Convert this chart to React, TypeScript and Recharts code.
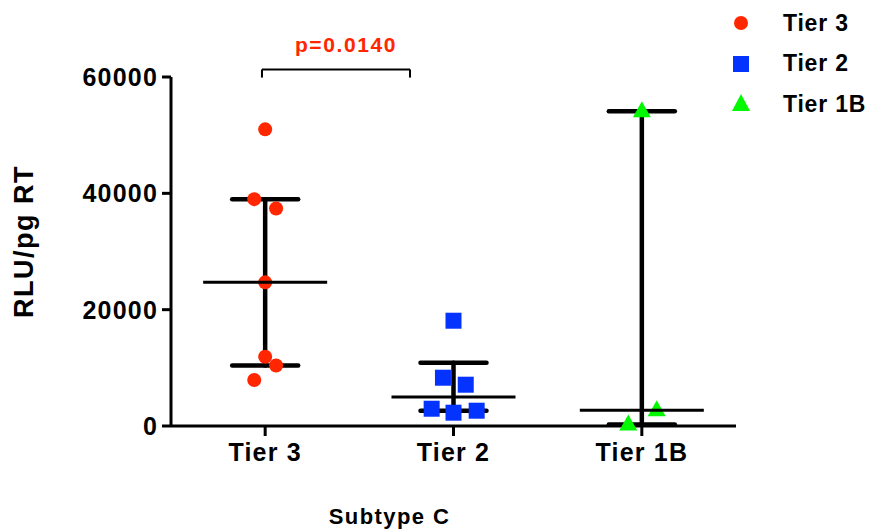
import React from 'react';
import { ComposedChart, Scatter, XAxis, YAxis, ErrorBar, ReferenceLine, Legend } from 'recharts';

const FONT = '"Liberation Sans", Arial, Helvetica, sans-serif';
const RED = '#FF2600';
const BLUE = '#0433FF';
const GREEN = '#00F900';

// categories on the x axis (placed at 1, 2, 3)
const categories = ['Tier 3', 'Tier 2', 'Tier 1B'];
const yTicks = [0, 20000, 40000, 60000];

// individual measurements, with horizontal jitter (in category units)
const tier3Values = [51000, 39000, 37400, 24700, 11900, 10400, 7900];
const tier3Jitter = [0, -0.058, 0.058, 0, 0, 0.058, -0.058];
const tier2Values = [18100, 8300, 7100, 2970, 2290, 2630];
const tier2Jitter = [0, -0.056, 0.065, -0.116, 0, 0.123];
const tier1bValues = [54100, 2700, 250];
const tier1bJitter = [0, 0.079, -0.072];

// median and interquartile range per category
const medians = [24700, 5000, 2700];
const q1s = [10400, 2630, 250];
const q3s = [39000, 10880, 54100];

// significance bracket between Tier 3 and Tier 2
const bracketX = [0.983, 1.769];
const bracketY = [59900, 61300];
const pLabel = 'p=0.0140';

const toPoints = (values: number[], jitter: number[], pos: number) =>
    values.map((y, i) => ({ x: pos + jitter[i], y }));

const tier3Data = toPoints(tier3Values, tier3Jitter, 1);
const tier2Data = toPoints(tier2Values, tier2Jitter, 2);
const tier1bData = toPoints(tier1bValues, tier1bJitter, 3);

const summaryData = categories.map((name, i) => ({
    x: i + 1,
    y: medians[i],
    err: [medians[i] - q1s[i], q3s[i] - medians[i]],
}));

const CircleDot = (props: any) => <circle cx={props.cx} cy={props.cy} r={7} fill={RED} />;
const SquareDot = (props: any) => (
    <rect x={props.cx - 8} y={props.cy - 8} width={16} height={16} fill={BLUE} />
);
const TriangleDot = (props: any) => (
    <path
        d={`M${props.cx},${props.cy - 10} L${props.cx + 9},${props.cy + 6} L${props.cx - 9},${props.cy + 6} Z`}
        fill={GREEN}
    />
);
const MedianLine = (props: any) => (
    <line x1={props.cx - 62} x2={props.cx + 62} y1={props.cy} y2={props.cy} stroke="#000" strokeWidth={3} />
);

const markers = [
    <circle cx={21} cy={12} r={7} fill={RED} />,
    <rect x={13} y={4} width={16} height={16} fill={BLUE} />,
    <path d="M21,2 L30,19 L12,19 Z" fill={GREEN} />,
];

const renderLegend = () => (
    <div style={{ fontFamily: FONT, fontWeight: 700, fontSize: 23, letterSpacing: 0.8, color: '#000' }}>
        {categories.map((name, i) => (
            <div key={name} style={{ display: 'flex', alignItems: 'center', height: 40.5, lineHeight: 1 }}>
                <svg width={42} height={24}>{markers[i]}</svg>
                <span style={{ marginLeft: 21 }}>{name}</span>
            </div>
        ))}
    </div>
);

const tickStyle = { fontFamily: FONT, fontWeight: 700, fontSize: 25, letterSpacing: 1.2, fill: '#000' };

const App = () => {
    return (
        <div style={{ position: 'absolute', left: 0, top: 0 }}>
            <ComposedChart width={869} height={532} margin={{ top: 77, right: 133, left: 0, bottom: 0 }}>
                <XAxis
                    type="number"
                    dataKey="x"
                    domain={[0.5, 3.5]}
                    ticks={[1, 2, 3]}
                    interval={0}
                    height={106}
                    tickFormatter={(v: number) => categories[v - 1]}
                    tick={tickStyle}
                    tickSize={10}
                    tickMargin={7}
                    axisLine={{ stroke: '#000', strokeWidth: 3 }}
                    tickLine={{ stroke: '#000', strokeWidth: 3 }}
                    label={{
                        content: (p: any) => (
                            <text
                                x={p.viewBox.x + p.viewBox.width / 2 - 64}
                                y={p.viewBox.y + 98}
                                textAnchor="middle"
                                style={{ fontFamily: FONT, fontWeight: 700, fontSize: 22, letterSpacing: 1.4 }}
                                fill="#000">
                                Subtype C
                            </text>
                        ),
                    }}
                />
                <YAxis
                    type="number"
                    dataKey="y"
                    domain={[0, 60000]}
                    ticks={yTicks}
                    interval={0}
                    width={171}
                    tick={tickStyle}
                    tickSize={9}
                    tickMargin={4}
                    axisLine={{ stroke: '#000', strokeWidth: 3 }}
                    tickLine={{ stroke: '#000', strokeWidth: 3 }}
                    label={{
                        content: (p: any) => {
                            const cy = p.viewBox.y + p.viewBox.height / 2 - 10;
                            return (
                                <text
                                    x={33}
                                    y={cy}
                                    transform={`rotate(-90, 33, ${cy})`}
                                    textAnchor="middle"
                                    style={{ fontFamily: FONT, fontWeight: 700, fontSize: 27, letterSpacing: 1.5 }}
                                    fill="#000">
                                    RLU/pg RT
                                </text>
                            );
                        },
                    }}
                />
                <Legend
                    layout="horizontal"
                    verticalAlign="middle"
                    align="center"
                    content={renderLegend}
                    wrapperStyle={{ top: 3, left: 720, width: 149, height: 125 }}
                />
                <Scatter name="Tier 3" data={tier3Data} shape={CircleDot} isAnimationActive={false} />
                <Scatter name="Tier 2" data={tier2Data} shape={SquareDot} isAnimationActive={false} />
                <Scatter name="Tier 1B" data={tier1bData} shape={TriangleDot} isAnimationActive={false} />
                <Scatter name="median" data={summaryData} shape={MedianLine} isAnimationActive={false} legendType="none">
                    <ErrorBar
                        dataKey="err"
                        direction="y"
                        width={33}
                        stroke="#000"
                        strokeWidth={4.5}
                        strokeLinecap="round"
                        isAnimationActive={false}
                    />
                </Scatter>
                <ReferenceLine
                    ifOverflow="visible"
                    segment={[
                        { x: bracketX[0], y: bracketY[0] },
                        { x: bracketX[0], y: bracketY[1] },
                    ]}
                    stroke="#000"
                    strokeWidth={2}
                />
                <ReferenceLine
                    ifOverflow="visible"
                    segment={[
                        { x: bracketX[1], y: bracketY[0] },
                        { x: bracketX[1], y: bracketY[1] },
                    ]}
                    stroke="#000"
                    strokeWidth={2}
                />
                <ReferenceLine
                    ifOverflow="visible"
                    segment={[
                        { x: bracketX[0], y: bracketY[1] },
                        { x: bracketX[1], y: bracketY[1] },
                    ]}
                    stroke="#000"
                    strokeWidth={2}
                    label={{
                        content: (p: any) => (
                            <text
                                x={p.viewBox.x + p.viewBox.width / 2 + 10}
                                y={p.viewBox.y - 17}
                                textAnchor="middle"
                                style={{ fontFamily: FONT, fontWeight: 700, fontSize: 21, letterSpacing: 1.6 }}
                                fill={RED}>
                                {pLabel}
                            </text>
                        ),
                    }}
                />
            </ComposedChart>
        </div>
    );
};

export default App;
